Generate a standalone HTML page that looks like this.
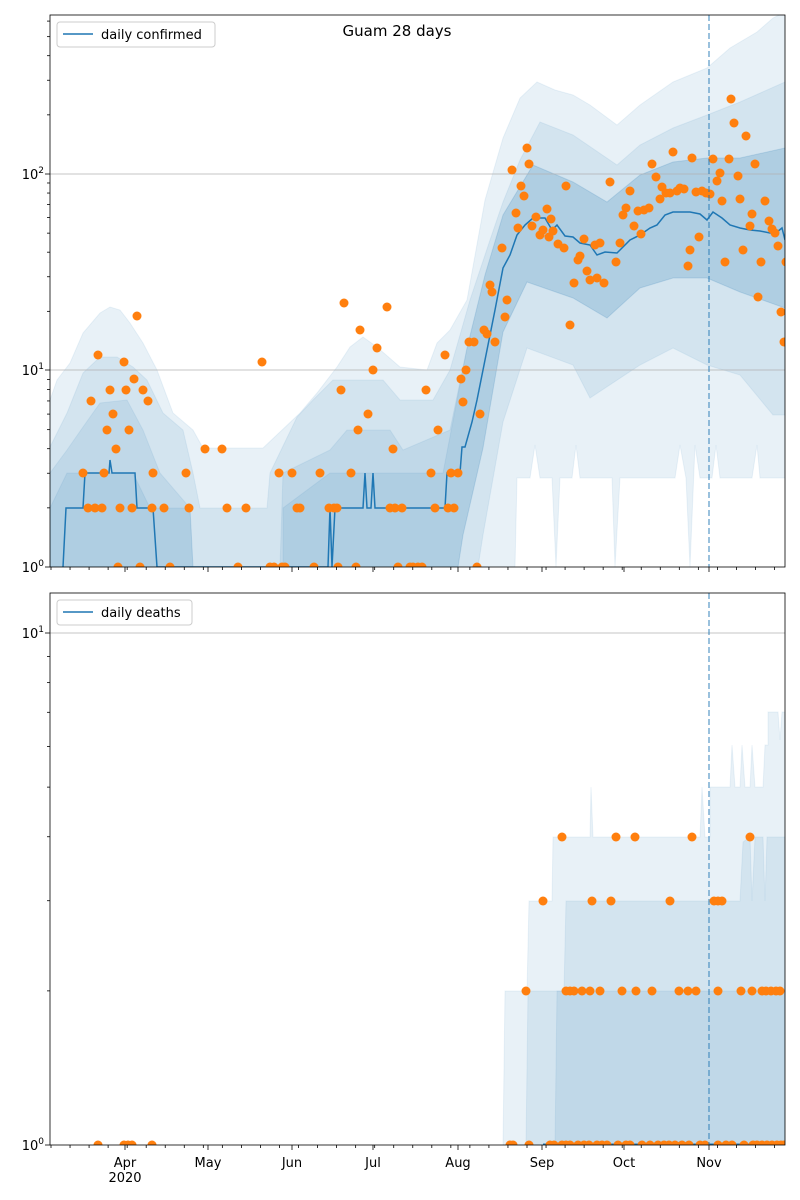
<!DOCTYPE html>
<html><head><meta charset="utf-8"><style>
html,body{margin:0;padding:0;background:#fff;}
svg{display:block;font-family:"DejaVu Sans","Liberation Sans",sans-serif;}
</style></head><body>
<svg id="s" width="800" height="1200" viewBox="0 0 800 1200" xmlns="http://www.w3.org/2000/svg">
<defs>
<clipPath id="c1"><rect x="50" y="15" width="735" height="552"/></clipPath>
<clipPath id="c2"><rect x="50" y="593" width="735" height="552"/></clipPath>
</defs>
<g clip-path="url(#c1)" fill="#1f77b4" stroke="#1f77b4" stroke-opacity="0.08">
<polygon fill-opacity="0.1" points="50,400 57,380 70,363 83,333 100,313 110,307 120,310 130,323 143,343 157,370 173,413 193,430 203,448 263,448 300,413 317,393 337,367 350,347 363,337 377,347 400,367 427,370 437,343 450,330 467,300 485,200 503,138 520,98 537,82 555,90 573,95 590,105 617,125 640,105 673,82 707,68 730,48 757,32 773,18 785,12 785,478 760,478 757,445 752,478 720,478 716,445 712,478 700,478 695,445 690,567 686,478 680,445 675,478 620,478 615,567 612,478 580,478 576,445 572,478 560,478 556,567 552,478 540,478 535,445 530,478 517,478 515,567 50,567"/>
<polygon fill-opacity="0.1" points="50,447 67,413 83,373 100,357 117,357 133,367 147,380 163,413 183,430 193,473 200,508 267,508 270,473 297,417 313,400 333,380 383,380 400,400 433,400 450,370 470,300 490,240 503,202 520,160 540,122 573,135 617,165 640,145 673,128 707,115 740,102 785,82 785,415 773,415 740,375 707,365 673,348 640,365 590,398 573,365 527,348 503,422 483,535 478,567 50,567"/>
<polygon fill-opacity="0.1" points="50,473 67,450 83,427 100,403 127,400 143,430 160,473 190,508 193,567 280,567 283,473 330,450 347,430 390,430 403,450 450,430 467,348 485,275 503,215 533,165 573,182 607,202 640,175 673,162 707,158 740,158 785,148 785,308 740,292 707,278 673,278 640,288 607,318 573,298 527,282 503,332 483,448 463,535 458,567 50,567"/>
<polygon fill-opacity="0.1" points="50,508 67,473 133,473 150,508 190,508 193,567 283,567 283,508 330,473 443,473 467,348 485,275 503,215 533,165 573,182 607,202 640,175 673,162 707,158 740,158 785,148 785,308 740,292 707,278 673,278 640,288 607,318 573,298 527,282 503,332 483,448 463,535 458,567 50,567"/>
</g>
<g clip-path="url(#c1)">
<line x1="50" y1="370" x2="785" y2="370" stroke="#b0b0b0" stroke-width="0.8"/>
<line x1="50" y1="174" x2="785" y2="174" stroke="#b0b0b0" stroke-width="0.8"/>
<polyline fill="none" stroke="#1f77b4" stroke-width="1.5" points="62,600 63,567 66,508 83,508 85,473 109,473 110,460 112,473 135,473 137,508 153,508 157,567 328,567 330,508 332,567 335,508 363,508 365,473 367,508 371,508 373,473 375,508 445,508 447,473 460,473 462,447 465,447 472,422 477,400 483,370 490,335 495,310 503,268 510,255 517,235 525,225 533,218 545,218 552,230 557,225 565,236 573,237 580,243 590,245 597,255 605,252 617,253 630,240 640,235 650,228 657,225 665,215 673,212 690,212 700,214 707,220 713,212 722,218 730,225 740,228 750,230 760,231 770,233 777,232 782,228 785,240"/>
<g id="d1" fill="#ff7f0e"></g>
</g>
<g clip-path="url(#c2)" fill="#1f77b4" stroke="#1f77b4" stroke-opacity="0.08">
<polygon fill-opacity="0.1" points="503,1145 505,991 527,991 529,901 552,901 553,837 590,837 591,787 593,837 700,837 702,787 705,837 710,837 710,787 730,787 732,745 735,787 740,787 742,745 745,787 750,787 752,745 755,787 763,787 765,745 768,745 768,712 778,712 780,740 782,712 785,712 785,1145"/>
<polygon fill-opacity="0.1" points="526,1145 528,991 564,991 566,901 740,901 743,842 750,837 752,901 755,837 763,837 765,901 767,837 785,837 785,1145"/>
<polygon fill-opacity="0.1" points="555,1145 557,991 785,991 785,1145"/>
</g>
<g clip-path="url(#c2)">
<line x1="50" y1="633" x2="785" y2="633" stroke="#b0b0b0" stroke-width="0.8"/>
<line x1="543" y1="1144.5" x2="785" y2="1144.5" stroke="#1f77b4" stroke-width="2"/>
<g id="d2" fill="#ff7f0e"></g>
</g>
<line x1="709" y1="15" x2="709" y2="567" stroke="#1f77b4" stroke-opacity="0.6" stroke-width="1.5" stroke-dasharray="6,3"/>
<line x1="709" y1="593" x2="709" y2="1145" stroke="#1f77b4" stroke-opacity="0.6" stroke-width="1.5" stroke-dasharray="6,3"/>
<rect x="50" y="15" width="735" height="552" fill="none" stroke="#000" stroke-width="0.8"/>
<rect x="50" y="593" width="735" height="552" fill="none" stroke="#000" stroke-width="0.8"/>
<g id="ticks" stroke="#000" stroke-width="0.8"></g>
<g font-size="13" fill="#000" text-anchor="end">
<text x="44" y="572">10<tspan font-size="9" dy="-6">0</tspan></text>
<text x="44" y="375">10<tspan font-size="9" dy="-6">1</tspan></text>
<text x="44" y="179">10<tspan font-size="9" dy="-6">2</tspan></text>
<text x="44" y="1150">10<tspan font-size="9" dy="-6">0</tspan></text>
<text x="44" y="638">10<tspan font-size="9" dy="-6">1</tspan></text>
</g>
<g font-size="13" fill="#000" text-anchor="middle">
<text x="125" y="1167">Apr</text><text x="125" y="1182">2020</text>
<text x="208" y="1167">May</text><text x="292" y="1167">Jun</text>
<text x="373" y="1167">Jul</text><text x="458" y="1167">Aug</text>
<text x="542" y="1167">Sep</text><text x="624" y="1167">Oct</text>
<text x="709" y="1167">Nov</text>
<text x="397" y="36" font-size="15">Guam 28 days</text>
</g>
<rect x="57" y="22" width="158" height="25" rx="3" fill="#fff" fill-opacity="0.8" stroke="#ccc"/>
<line x1="63" y1="34" x2="93" y2="34" stroke="#1f77b4" stroke-width="1.5"/>
<text x="101" y="39" font-size="13">daily confirmed</text>
<rect x="57" y="600" width="135" height="25" rx="3" fill="#fff" fill-opacity="0.8" stroke="#ccc"/>
<line x1="63" y1="612" x2="93" y2="612" stroke="#1f77b4" stroke-width="1.5"/>
<text x="101" y="617" font-size="13">daily deaths</text>
</svg>
<script>
var NS="http://www.w3.org/2000/svg";
function c(g,x,y){var e=document.createElementNS(NS,"circle");e.setAttribute("cx",x);e.setAttribute("cy",y);e.setAttribute("r",4.5);document.getElementById(g).appendChild(e);}
var t=[83,473,91,401,98,355,88,508,95,508,102,508,104,473,107,430,110,390,113,414,116,449,120,508,118,567,124,362,126,390,129,430,132,508,134,379,137,316,140,567,143,390,148,401,152,508,153,473,164,508,170,567,186,473,189,508,205,449,222,449,227,508,238,567,246,508,262,362,270,567,274,567,279,473,282,567,285,567,292,473,297,508,300,508,314,567,320,473,329,508,334,508,337,508,338,567,341,390,344,303,351,473,356,567,358,430,360,330,368,414,373,370,377,348,387,307,390,508,393,449,395,508,398,567,402,508,410,567,413,567,418,567,422,567,426,390,431,473,435,508,438,430,445,355,448,508,451,473,454,508,458,473,461,379,463,402,466,370,469,342,474,342,477,567,480,414,484,330,487,334,490,285,492,292,495,342,502,248,505,317,507,300,512,170,516,213,518,228,521,186,524,196,527,148,529,164,532,226,536,217,540,235,543,230,547,209,549,237,551,219,553,231,558,244,564,248,566,186,570,325,574,283,578,260,580,256,584,239,587,271,590,280,595,245,597,278,600,243,604,283,610,182,616,262,620,243,623,215,626,208,630,191,634,226,638,211,641,234,644,210,649,208,652,164,656,177,660,199,662,187,666,193,670,193,673,152,677,191,680,188,684,189,688,266,690,250,692,158,696,192,699,237,702,191,706,193,710,194,713,159,717,181,720,173,722,201,725,262,729,159,731,99,734,123,738,176,740,199,743,250,746,136,750,226,752,214,755,164,758,297,761,262,765,201,769,221,772,229,775,233,778,246,781,312,784,342,786,262];
for(var i=0;i<t.length;i+=2)c("d1",t[i],t[i+1]);
var b={1145:[98,124,128,132,152,510,513,529,550,554,562,566,570,578,584,589,597,602,607,618,626,630,642,650,658,664,669,675,682,689,700,705,718,726,732,744,753,757,762,767,772,777,781,784],991:[526,566,570,574,582,590,600,622,636,652,679,688,696,718,741,752,762,766,771,776,780],901:[543,592,611,670,714,718,722],837:[562,616,635,692,750]};
for(var y in b)b[y].forEach(function(x){c("d2",x,+y);});
var tk=document.getElementById("ticks"),s="";
function L(x1,y1,x2,y2){s+='<line x1="'+x1+'" y1="'+y1+'" x2="'+x2+'" y2="'+y2+'"/>';}
[125,208,292,373,458,542,624,709].forEach(function(x){L(x,567,x,572);L(x,1145,x,1150);});
for(var x=51;x<786;x+=19.04){L(x,567,x,570);L(x,1145,x,1148);}
[370,174,567].forEach(function(y){L(45,y,50,y);});
[633,1145].forEach(function(y){L(45,y,50,y);});
for(var d=0;d<3;d++)for(var k=2;k<10;k++){var y=567-196.5*(d+Math.log10(k));if(y>15)L(47,y,50,y);}
for(var k=2;k<10;k++){var y=1145-512*Math.log10(k);L(47,y,50,y);}
tk.innerHTML=s;
</script>
</body></html>
